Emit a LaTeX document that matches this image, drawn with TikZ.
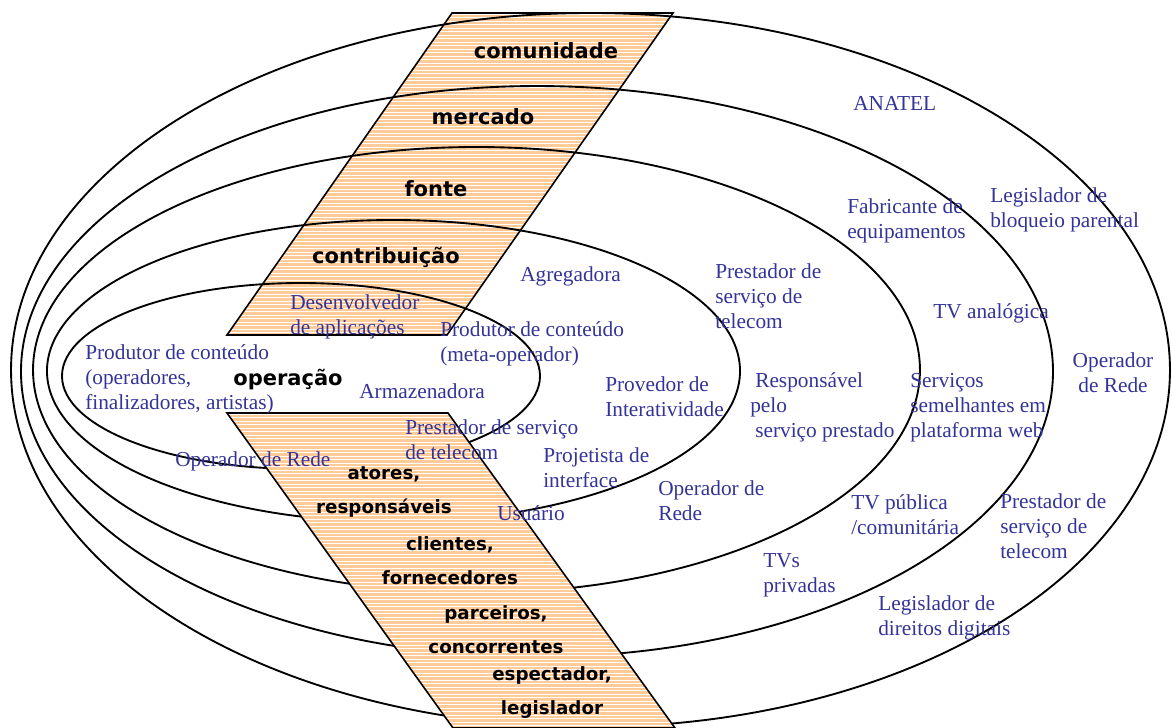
\documentclass[tikz,border=0pt]{standalone}
\usepackage{fontspec}
\setmainfont{Liberation Serif}
\newfontfamily\verdana{DejaVu Sans}

\definecolor{peach}{HTML}{FFCC99}
\definecolor{actorblue}{HTML}{333399}

\tikzset{
  ring/.style={line width=1.4pt},
  bandline/.style={draw=black, line width=1.2pt, line join=miter},
  stripe/.style={white, line width=0.7pt},
  actor/.style={text=actorblue, font=\fontsize{16}{18.75}\selectfont,
    align=left, anchor=north west, inner sep=0pt},
  levellbl/.style={font=\verdana\bfseries\fontsize{15.75}{18}\selectfont, inner sep=0pt},
  pairlbl/.style={font=\verdana\bfseries\fontsize{13.7}{25.5}\selectfont,
    align=center, inner sep=0pt},
}

\begin{document}
\begin{tikzpicture}[x=0.75pt,y=-0.75pt]
    \useasboundingbox (0,0) rectangle (1172,728);

    % upper band
    \coordinate (ua) at (452,13);
    \coordinate (ub) at (673,13);
    \coordinate (uc) at (447,335);
    \coordinate (ud) at (227,335);
    \fill[peach] (ua) -- (ub) -- (uc) -- (ud) -- cycle;
    \begin{scope}
        \clip (ua) -- (ub) -- (uc) -- (ud) -- cycle;
        \foreach \y in {14,17.5,...,335}
            \draw[stripe] (220,\y) -- (680,\y);
    \end{scope}
    \draw[bandline] (ua) -- (ub) -- (uc) -- (ud) -- cycle;

    % the five rings
    \draw[ring] (301,376) ellipse [x radius=179.25pt, y radius=69.75pt];
    \draw[ring] (393.5,371) ellipse [x radius=259.9pt, y radius=113.25pt];
    \draw[ring] (476.5,370) ellipse [x radius=332.6pt, y radius=167.25pt];
    \draw[ring] (537,371.5) ellipse [x radius=387pt, y radius=214.1pt];
    \draw[ring] (590.5,370) ellipse [x radius=434.6pt, y radius=267.75pt];

    % lower band
    \coordinate (la) at (227,413);
    \coordinate (lb) at (448,413);
    \coordinate (lc) at (675,728);
    \coordinate (ld) at (453,728);
    \fill[peach] (la) -- (lb) -- (lc) -- (ld) -- cycle;
    \begin{scope}
        \clip (la) -- (lb) -- (lc) -- (ld) -- cycle;
        \foreach \y in {414,417.5,...,728}
            \draw[stripe] (220,\y) -- (680,\y);
    \end{scope}
    \draw[bandline] (la) -- (lb) -- (lc) -- (ld) -- cycle;

    % levels
    \node[levellbl] (comunidade) at (546,51) {comunidade};
    \node[levellbl] (mercado) at (483,117) {mercado};
    \node[levellbl] (fonte) at (436,189) {fonte};
    \node[levellbl] (contribuicao) at (386,257) {contribuição};
    \node[levellbl] (operacao) at (288,380) {operação};

    \node[pairlbl] (atores) at (384,492) {atores,\\responsáveis};
    \node[pairlbl] (clientes) at (450,561) {clientes,\\fornecedores};
    \node[pairlbl] (parceiros) at (496,630) {parceiros,\\concorrentes};
    \node[pairlbl] (espectador) at (552,693) {espectador,\\legislador};

    % actors
    \node[actor] (desenv) at (290,294.5) {Desenvolvedor\\de aplicações};
    \node[actor] (agreg) at (520,266.5) {Agregadora};
    \node[actor] (prodmeta) at (440,321.5) {Produtor de conteúdo\\(meta-operador)};
    \node[actor] (prodops) at (85,344.5) {Produtor de conteúdo\\(operadores,\\finalizadores, artistas)};
    \node[actor] (armaz) at (359,383.5) {Armazenadora};
    \node[actor] (presta) at (405,419.5) {Prestador de serviço\\de telecom};
    \node[actor] (redea) at (175,451.5) {Operador de Rede};
    \node[actor] (projet) at (543,447.5) {Projetista de\\interface};
    \node[actor] (usuario) at (497,505.5) {Usuário};
    \node[actor] (provedor) at (605,376.5) {Provedor de\\Interatividade};
    \node[actor] (prestb) at (715,263.5) {Prestador de\\serviço de\\telecom};
    \node[actor] (respons) at (750,372.5) {\hspace{3.75pt}Responsável\\pelo\\\hspace{3.75pt}serviço prestado};
    \node[actor] (redeb) at (658,480.5) {Operador de\\Rede};
    \node[actor] (anatel) at (853,96.5) {ANATEL};
    \node[actor] (fabric) at (847,198.5) {Fabricante de\\equipamentos};
    \node[actor] (bloqueio) at (990,187.5) {Legislador de\\bloqueio parental};
    \node[actor] (analog) at (933,303.5) {TV analógica};
    \node[actor, align=center, anchor=north] (redec) at (1113,352.5) {Operador\\de Rede};
    \node[actor] (servweb) at (910,373.5) {Serviços\\semelhantes em\\plataforma web};
    \node[actor] (tvpub) at (851,494.5) {TV pública\\/comunitária};
    \node[actor] (prestc) at (1000,493.5) {Prestador de\\serviço de\\telecom};
    \node[actor] (tvpriv) at (763,553.5) {TVs\\privadas};
    \node[actor] (direitos) at (878,595.5) {Legislador de\\direitos digitais};
\end{tikzpicture}
\end{document}
